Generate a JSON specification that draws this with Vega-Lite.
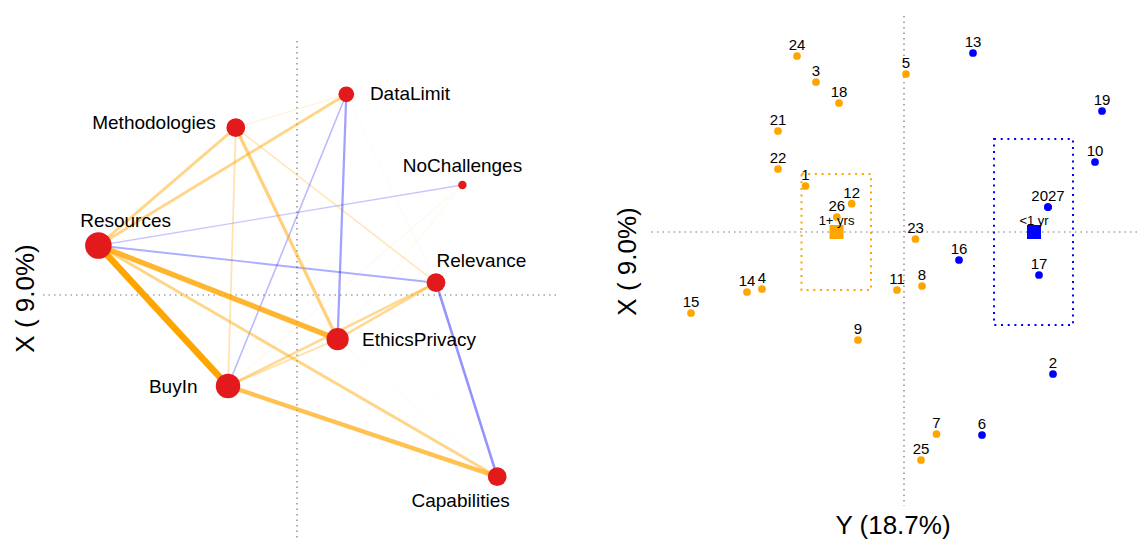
{
  "$schema": "https://vega.github.io/schema/vega-lite/v6.json",
  "padding": {"left": 12, "top": 15, "right": 0, "bottom": 0},
  "spacing": 57,
  "config": {
    "font": "Liberation Sans",
    "view": {"stroke": null},
    "axis": {"titleFont": "Liberation Sans", "titleFontSize": 26, "titleFontWeight": "normal", "titleColor": "#000000", "labels": false, "ticks": false, "domain": false, "grid": false}
  },
  "resolve": {"scale": {"color": "independent", "x": "independent", "y": "independent"}},
  "datasets": {
    "nodes": [
      {"name": "Resources", "x": -0.993, "y": 0.2475, "n": 20, "lx": -0.857, "ly": 0.3715},
      {"name": "Methodologies", "x": -0.306, "y": 0.8365, "n": 10, "lx": -0.715, "ly": 0.8615},
      {"name": "DataLimit", "x": 0.2465, "y": 1.0035, "n": 7, "lx": 0.565, "ly": 1.005},
      {"name": "NoChallenges", "x": 0.827, "y": 0.55, "n": 2, "lx": 0.8275, "ly": 0.645},
      {"name": "Relevance", "x": 0.695, "y": 0.0615, "n": 10, "lx": 0.922, "ly": 0.1715},
      {"name": "EthicsPrivacy", "x": 0.203, "y": -0.221, "n": 14, "lx": 0.61, "ly": -0.225},
      {"name": "BuyIn", "x": -0.345, "y": -0.455, "n": 17, "lx": -0.619, "ly": -0.46},
      {"name": "Capabilities", "x": 1.001, "y": -0.9085, "n": 10, "lx": 0.818, "ly": -1.0315}
    ],
    "edges": [
      {"from": "Methodologies", "to": "Capabilities", "sign": "positive", "strength": 0.06},
      {"from": "EthicsPrivacy", "to": "Capabilities", "sign": "positive", "strength": 0.08},
      {"from": "DataLimit", "to": "Relevance", "sign": "positive", "strength": 0.08},
      {"from": "NoChallenges", "to": "EthicsPrivacy", "sign": "positive", "strength": 0.1},
      {"from": "NoChallenges", "to": "BuyIn", "sign": "positive", "strength": 0.12},
      {"from": "Methodologies", "to": "DataLimit", "sign": "positive", "strength": 0.15},
      {"from": "Resources", "to": "NoChallenges", "sign": "negative", "strength": 0.2},
      {"from": "Methodologies", "to": "Relevance", "sign": "positive", "strength": 0.25},
      {"from": "DataLimit", "to": "BuyIn", "sign": "negative", "strength": 0.25},
      {"from": "Methodologies", "to": "BuyIn", "sign": "positive", "strength": 0.28},
      {"from": "BuyIn", "to": "EthicsPrivacy", "sign": "positive", "strength": 0.3},
      {"from": "Resources", "to": "Relevance", "sign": "negative", "strength": 0.3},
      {"from": "DataLimit", "to": "EthicsPrivacy", "sign": "negative", "strength": 0.35},
      {"from": "BuyIn", "to": "Relevance", "sign": "positive", "strength": 0.4},
      {"from": "EthicsPrivacy", "to": "Relevance", "sign": "positive", "strength": 0.4},
      {"from": "Relevance", "to": "Capabilities", "sign": "negative", "strength": 0.4},
      {"from": "Resources", "to": "Methodologies", "sign": "positive", "strength": 0.45},
      {"from": "Resources", "to": "DataLimit", "sign": "positive", "strength": 0.45},
      {"from": "Resources", "to": "Capabilities", "sign": "positive", "strength": 0.45},
      {"from": "Methodologies", "to": "EthicsPrivacy", "sign": "positive", "strength": 0.5},
      {"from": "BuyIn", "to": "Capabilities", "sign": "positive", "strength": 0.68},
      {"from": "Resources", "to": "EthicsPrivacy", "sign": "positive", "strength": 0.82},
      {"from": "Resources", "to": "BuyIn", "sign": "positive", "strength": 1.0}
    ],
    "people": [
      {"id": "24", "group": "1+ yrs", "x": -0.535, "y": 0.88},
      {"id": "3", "group": "1+ yrs", "x": -0.44, "y": 0.75},
      {"id": "18", "group": "1+ yrs", "x": -0.325, "y": 0.645},
      {"id": "5", "group": "1+ yrs", "x": 0.01, "y": 0.79},
      {"id": "21", "group": "1+ yrs", "x": -0.63, "y": 0.505},
      {"id": "22", "group": "1+ yrs", "x": -0.63, "y": 0.315},
      {"id": "1", "group": "1+ yrs", "x": -0.4925, "y": 0.23},
      {"id": "12", "group": "1+ yrs", "x": -0.2615, "y": 0.1415},
      {"id": "26", "group": "1+ yrs", "x": -0.336, "y": 0.075},
      {"id": "23", "group": "1+ yrs", "x": 0.0575, "y": -0.035},
      {"id": "14", "group": "1+ yrs", "x": -0.785, "y": -0.3},
      {"id": "4", "group": "1+ yrs", "x": -0.71, "y": -0.285},
      {"id": "11", "group": "1+ yrs", "x": -0.035, "y": -0.29},
      {"id": "8", "group": "1+ yrs", "x": 0.09, "y": -0.27},
      {"id": "15", "group": "1+ yrs", "x": -1.065, "y": -0.405},
      {"id": "9", "group": "1+ yrs", "x": -0.23, "y": -0.54},
      {"id": "7", "group": "1+ yrs", "x": 0.1625, "y": -1.01},
      {"id": "25", "group": "1+ yrs", "x": 0.085, "y": -1.14},
      {"id": "13", "group": "<1 yr", "x": 0.345, "y": 0.895},
      {"id": "19", "group": "<1 yr", "x": 0.99, "y": 0.605},
      {"id": "10", "group": "<1 yr", "x": 0.955, "y": 0.35},
      {"id": "20", "group": "<1 yr", "x": 0.72, "y": 0.125},
      {"id": "27", "group": "<1 yr", "x": 0.72, "y": 0.125},
      {"id": "16", "group": "<1 yr", "x": 0.275, "y": -0.14},
      {"id": "17", "group": "<1 yr", "x": 0.675, "y": -0.215},
      {"id": "2", "group": "<1 yr", "x": 0.745, "y": -0.71},
      {"id": "6", "group": "<1 yr", "x": 0.39, "y": -1.015}
    ],
    "groups": [
      {"group": "1+ yrs", "mx": -0.3375, "my": 0.0, "x_lo": -0.5125, "x_hi": -0.165, "y_lo": -0.29, "y_hi": 0.29},
      {"group": "<1 yr", "mx": 0.65, "my": 0.0, "x_lo": 0.45, "x_hi": 0.845, "y_lo": -0.465, "y_hi": 0.465}
    ]
  },
  "hconcat": [
    {
      "width": 515,
      "height": 525,
      "layer": [
        {
          "data": {"values": [{}]},
          "mark": {"type": "rule", "color": "#777777", "strokeWidth": 1.2, "strokeDash": [1.5, 4]},
          "encoding": {
            "y": {"datum": 0, "type": "quantitative", "scale": {"domain": [-1.23, 1.395], "nice": false, "zero": false}, "axis": {"title": "X ( 9.0%)", "titlePadding": 3, "titleY": 282}}
          }
        },
        {
          "data": {"values": [{}]},
          "mark": {"type": "rule", "color": "#777777", "strokeWidth": 1.2, "strokeDash": [1.5, 4]},
          "encoding": {
            "x": {"datum": 0, "type": "quantitative", "scale": {"domain": [-1.28, 1.295], "nice": false, "zero": false}, "axis": null},
            "y": {"datum": 1.27, "type": "quantitative", "scale": {"domain": [-1.23, 1.395], "nice": false, "zero": false}, "axis": {"title": "X ( 9.0%)", "titlePadding": 3, "titleY": 282}},
            "y2": {"datum": -1.23}
          }
        },
        {
          "data": {"name": "edges"},
          "transform": [
            {"lookup": "from", "from": {"data": {"name": "nodes"}, "key": "name", "fields": ["x", "y"]}, "as": ["x1", "y1"]},
            {"lookup": "to", "from": {"data": {"name": "nodes"}, "key": "name", "fields": ["x", "y"]}, "as": ["xe", "ye"]}
          ],
          "mark": {"type": "rule", "strokeCap": "round"},
          "encoding": {
            "x": {"field": "x1", "type": "quantitative", "scale": {"domain": [-1.28, 1.295], "nice": false, "zero": false}, "axis": null},
            "y": {"field": "y1", "type": "quantitative", "scale": {"domain": [-1.23, 1.395], "nice": false, "zero": false}, "axis": {"title": "X ( 9.0%)", "titlePadding": 3, "titleY": 282}},
            "x2": {"field": "xe"},
            "y2": {"field": "ye"},
            "color": {"field": "sign", "type": "nominal", "scale": {"domain": ["positive", "negative"], "range": ["#FFA500", "#0000FF"]}, "legend": null},
            "strokeWidth": {"field": "strength", "type": "quantitative", "scale": {"domain": [0, 1], "range": [0, 6.5]}, "legend": null},
            "opacity": {"field": "strength", "type": "quantitative", "scale": {"domain": [0, 1], "range": [0.03, 1]}, "legend": null}
          }
        },
        {
          "data": {"name": "nodes"},
          "mark": {"type": "point", "filled": true, "opacity": 1, "color": "#E31A1C", "shape": "circle"},
          "encoding": {
            "x": {"field": "x", "type": "quantitative", "scale": {"domain": [-1.28, 1.295], "nice": false, "zero": false}, "axis": null},
            "y": {"field": "y", "type": "quantitative", "scale": {"domain": [-1.23, 1.395], "nice": false, "zero": false}, "axis": {"title": "X ( 9.0%)", "titlePadding": 3, "titleY": 282}},
            "size": {"field": "n", "type": "quantitative", "scale": {"domain": [0, 20], "range": [0, 707]}, "legend": null}
          }
        },
        {
          "data": {"name": "nodes"},
          "mark": {"type": "text", "fontSize": 19, "color": "#000000", "align": "center", "baseline": "middle"},
          "encoding": {
            "x": {"field": "lx", "type": "quantitative", "scale": {"domain": [-1.28, 1.295], "nice": false, "zero": false}, "axis": null},
            "y": {"field": "ly", "type": "quantitative", "scale": {"domain": [-1.23, 1.395], "nice": false, "zero": false}, "axis": {"title": "X ( 9.0%)", "titlePadding": 3, "titleY": 282}},
            "text": {"field": "name"}
          }
        }
      ]
    },
    {
      "width": 489,
      "height": 490,
      "encoding": {
        "x": {"type": "quantitative", "scale": {"domain": [-1.28, 1.165], "nice": false, "zero": false}, "axis": {"title": "Y (18.7%)", "titlePadding": 6}},
        "y": {"type": "quantitative", "scale": {"domain": [-1.37, 1.08], "nice": false, "zero": false}, "axis": {"title": "X ( 9.0%)", "titlePadding": 8}}
      },
      "layer": [
        {
          "data": {"values": [{}]},
          "mark": {"type": "rule", "color": "#777777", "strokeWidth": 1.2, "strokeDash": [1.5, 4]},
          "encoding": {"y": {"datum": 0, "type": "quantitative", "scale": {"domain": [-1.37, 1.08], "nice": false, "zero": false}, "axis": {"title": "X ( 9.0%)", "titlePadding": 8}}}
        },
        {
          "data": {"values": [{}]},
          "mark": {"type": "rule", "color": "#777777", "strokeWidth": 1.2, "strokeDash": [1.5, 4]},
          "encoding": {"x": {"datum": 0, "type": "quantitative", "scale": {"domain": [-1.28, 1.165], "nice": false, "zero": false}, "axis": {"title": "Y (18.7%)", "titlePadding": 6}}}
        },
        {
          "data": {"name": "groups"},
          "mark": {"type": "rect", "fillOpacity": 0, "strokeWidth": 2, "strokeDash": [2, 4.7]},
          "encoding": {
            "x": {"field": "x_lo", "type": "quantitative", "scale": {"domain": [-1.28, 1.165], "nice": false, "zero": false}, "axis": {"title": "Y (18.7%)", "titlePadding": 6}},
            "x2": {"field": "x_hi"},
            "y": {"field": "y_lo", "type": "quantitative", "scale": {"domain": [-1.37, 1.08], "nice": false, "zero": false}, "axis": {"title": "X ( 9.0%)", "titlePadding": 8}},
            "y2": {"field": "y_hi"},
            "stroke": {"field": "group", "type": "nominal", "scale": {"domain": ["1+ yrs", "<1 yr"], "range": ["#FFA500", "#0000FF"]}, "legend": null}
          }
        },
        {
          "data": {"name": "people"},
          "mark": {"type": "point", "filled": true, "opacity": 1, "shape": "circle", "size": 60},
          "encoding": {
            "x": {"field": "x", "type": "quantitative", "scale": {"domain": [-1.28, 1.165], "nice": false, "zero": false}, "axis": {"title": "Y (18.7%)", "titlePadding": 6}},
            "y": {"field": "y", "type": "quantitative", "scale": {"domain": [-1.37, 1.08], "nice": false, "zero": false}, "axis": {"title": "X ( 9.0%)", "titlePadding": 8}},
            "color": {"field": "group", "type": "nominal", "scale": {"domain": ["1+ yrs", "<1 yr"], "range": ["#FFA500", "#0000FF"]}, "legend": null}
          }
        },
        {
          "data": {"name": "people"},
          "transform": [{"filter": "datum.id != '20' && datum.id != '27'"}],
          "mark": {"type": "text", "fontSize": 15, "color": "#000000", "align": "center", "baseline": "middle", "dy": -11},
          "encoding": {
            "x": {"field": "x", "type": "quantitative", "scale": {"domain": [-1.28, 1.165], "nice": false, "zero": false}, "axis": {"title": "Y (18.7%)", "titlePadding": 6}},
            "y": {"field": "y", "type": "quantitative", "scale": {"domain": [-1.37, 1.08], "nice": false, "zero": false}, "axis": {"title": "X ( 9.0%)", "titlePadding": 8}},
            "text": {"field": "id"}
          }
        },
        {
          "data": {"name": "people"},
          "transform": [{"filter": "datum.id == '20'"}],
          "mark": {"type": "text", "fontSize": 15, "color": "#000000", "align": "right", "baseline": "middle", "dy": -11},
          "encoding": {
            "x": {"field": "x", "type": "quantitative", "scale": {"domain": [-1.28, 1.165], "nice": false, "zero": false}, "axis": {"title": "Y (18.7%)", "titlePadding": 6}},
            "y": {"field": "y", "type": "quantitative", "scale": {"domain": [-1.37, 1.08], "nice": false, "zero": false}, "axis": {"title": "X ( 9.0%)", "titlePadding": 8}},
            "text": {"field": "id"}
          }
        },
        {
          "data": {"name": "people"},
          "transform": [{"filter": "datum.id == '27'"}],
          "mark": {"type": "text", "fontSize": 15, "color": "#000000", "align": "left", "baseline": "middle", "dy": -11},
          "encoding": {
            "x": {"field": "x", "type": "quantitative", "scale": {"domain": [-1.28, 1.165], "nice": false, "zero": false}, "axis": {"title": "Y (18.7%)", "titlePadding": 6}},
            "y": {"field": "y", "type": "quantitative", "scale": {"domain": [-1.37, 1.08], "nice": false, "zero": false}, "axis": {"title": "X ( 9.0%)", "titlePadding": 8}},
            "text": {"field": "id"}
          }
        },
        {
          "data": {"name": "groups"},
          "mark": {"type": "point", "filled": true, "opacity": 1, "shape": "square", "size": 196},
          "encoding": {
            "x": {"field": "mx", "type": "quantitative", "scale": {"domain": [-1.28, 1.165], "nice": false, "zero": false}, "axis": {"title": "Y (18.7%)", "titlePadding": 6}},
            "y": {"field": "my", "type": "quantitative", "scale": {"domain": [-1.37, 1.08], "nice": false, "zero": false}, "axis": {"title": "X ( 9.0%)", "titlePadding": 8}},
            "color": {"field": "group", "type": "nominal", "scale": {"domain": ["1+ yrs", "<1 yr"], "range": ["#FFA500", "#0000FF"]}, "legend": null}
          }
        },
        {
          "data": {"name": "groups"},
          "mark": {"type": "text", "fontSize": 13, "color": "#000000", "align": "center", "baseline": "middle", "dy": -11},
          "encoding": {
            "x": {"field": "mx", "type": "quantitative", "scale": {"domain": [-1.28, 1.165], "nice": false, "zero": false}, "axis": {"title": "Y (18.7%)", "titlePadding": 6}},
            "y": {"field": "my", "type": "quantitative", "scale": {"domain": [-1.37, 1.08], "nice": false, "zero": false}, "axis": {"title": "X ( 9.0%)", "titlePadding": 8}},
            "text": {"field": "group"}
          }
        }
      ]
    }
  ]
}
